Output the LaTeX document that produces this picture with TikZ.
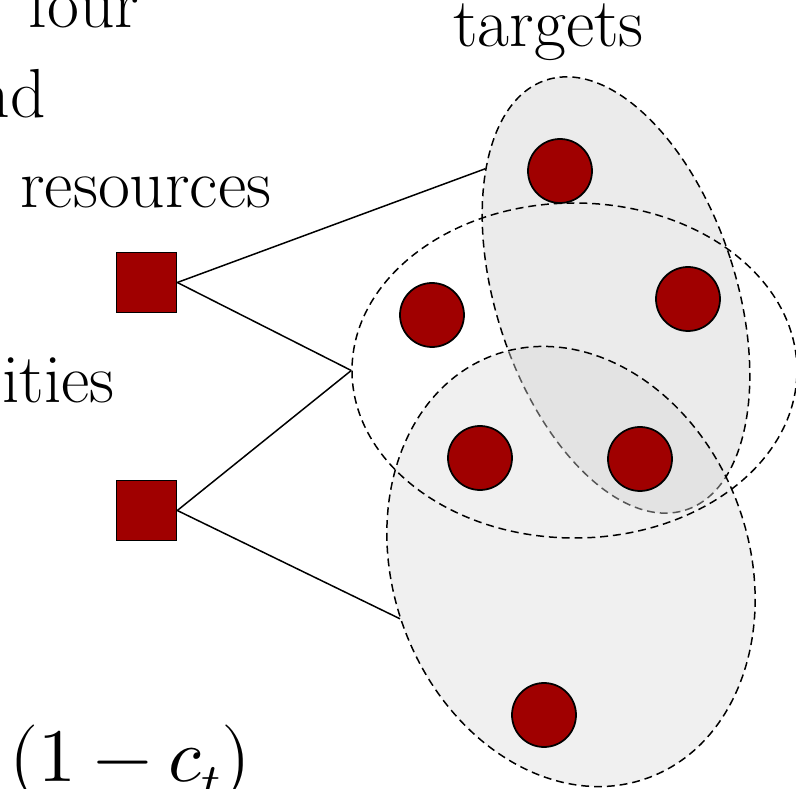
\documentclass[tikz,border=0pt]{standalone}
\usepackage{amsmath}
\usepackage{unicode-math}
\usepackage{tikz}
\usetikzlibrary{shapes.geometric}

\definecolor{tgtred}{RGB}{160,0,0}

\tikzset{
    bigtext/.style={inner sep=0pt, font=\fontsize{39.5}{47}\selectfont},
    resource/.style={draw, line width=0.9pt, fill=tgtred, minimum size=1.2cm, inner sep=0pt},
    target/.style={draw, circle, line width=1pt, fill=tgtred, minimum size=1.28cm, inner sep=0pt},
    group/.style={draw, ellipse, line width=0.85pt, dash pattern=on 4.5pt off 2.8pt, inner sep=0pt},
    link/.style={line width=0.85pt}
}

\begin{document}
\begin{tikzpicture}
    \useasboundingbox (0, 0) rectangle (15.92, 15.78);

    % Text (cut off on the left)
    \node[bigtext, anchor=base] (four) at (1.68, 15.22) {four};
    \node[bigtext, anchor=base east] (and) at (0.92, 13.42) {nd};
    \node[bigtext, anchor=base west] (res) at (0.4, 11.62) {resources};
    \node[bigtext, anchor=base east] (ities) at (2.3, 7.72) {ities};
    \node[bigtext, anchor=base west, font=\fontsize{43}{50}\selectfont] (cost) at (0.18, 0.14) {$(1-c_t)$};
    \node[bigtext, anchor=base west] (tgts) at (9.06, 14.84) {targets};

    % Groups of targets
    \node[group, fill=gray!16, minimum width=4.8cm, minimum height=9.04cm, rotate=18] (A) at (12.32, 9.88) {};
    \node[group, fill=gray!30, fill opacity=0.4, minimum width=7.12cm, minimum height=9cm, rotate=20] (C) at (11.42, 4.45) {};
    \node[group, minimum width=8.9cm, minimum height=6.7cm] (B) at (11.49, 8.37) {};

    % Resources
    \node[resource] (r1) at (2.93, 10.13) {};
    \node[resource] (r2) at (2.93, 5.57) {};

    % Links
    \draw[link] (r1.east) -- (A.118);
    \draw[link] (r1.east) -- (B.west);
    \draw[link] (r2.east) -- (B.west);
    \draw[link] (r2.east) -- (C.177);

    % Targets
    \foreach \n/\x/\y in {1/11.2/12.36, 2/8.64/9.48, 3/13.76/9.8, 4/9.6/6.62, 5/12.8/6.6, 6/10.88/1.48} {
        \node[target] (t\n) at (\x, \y) {};
    }
\end{tikzpicture}
\end{document}
